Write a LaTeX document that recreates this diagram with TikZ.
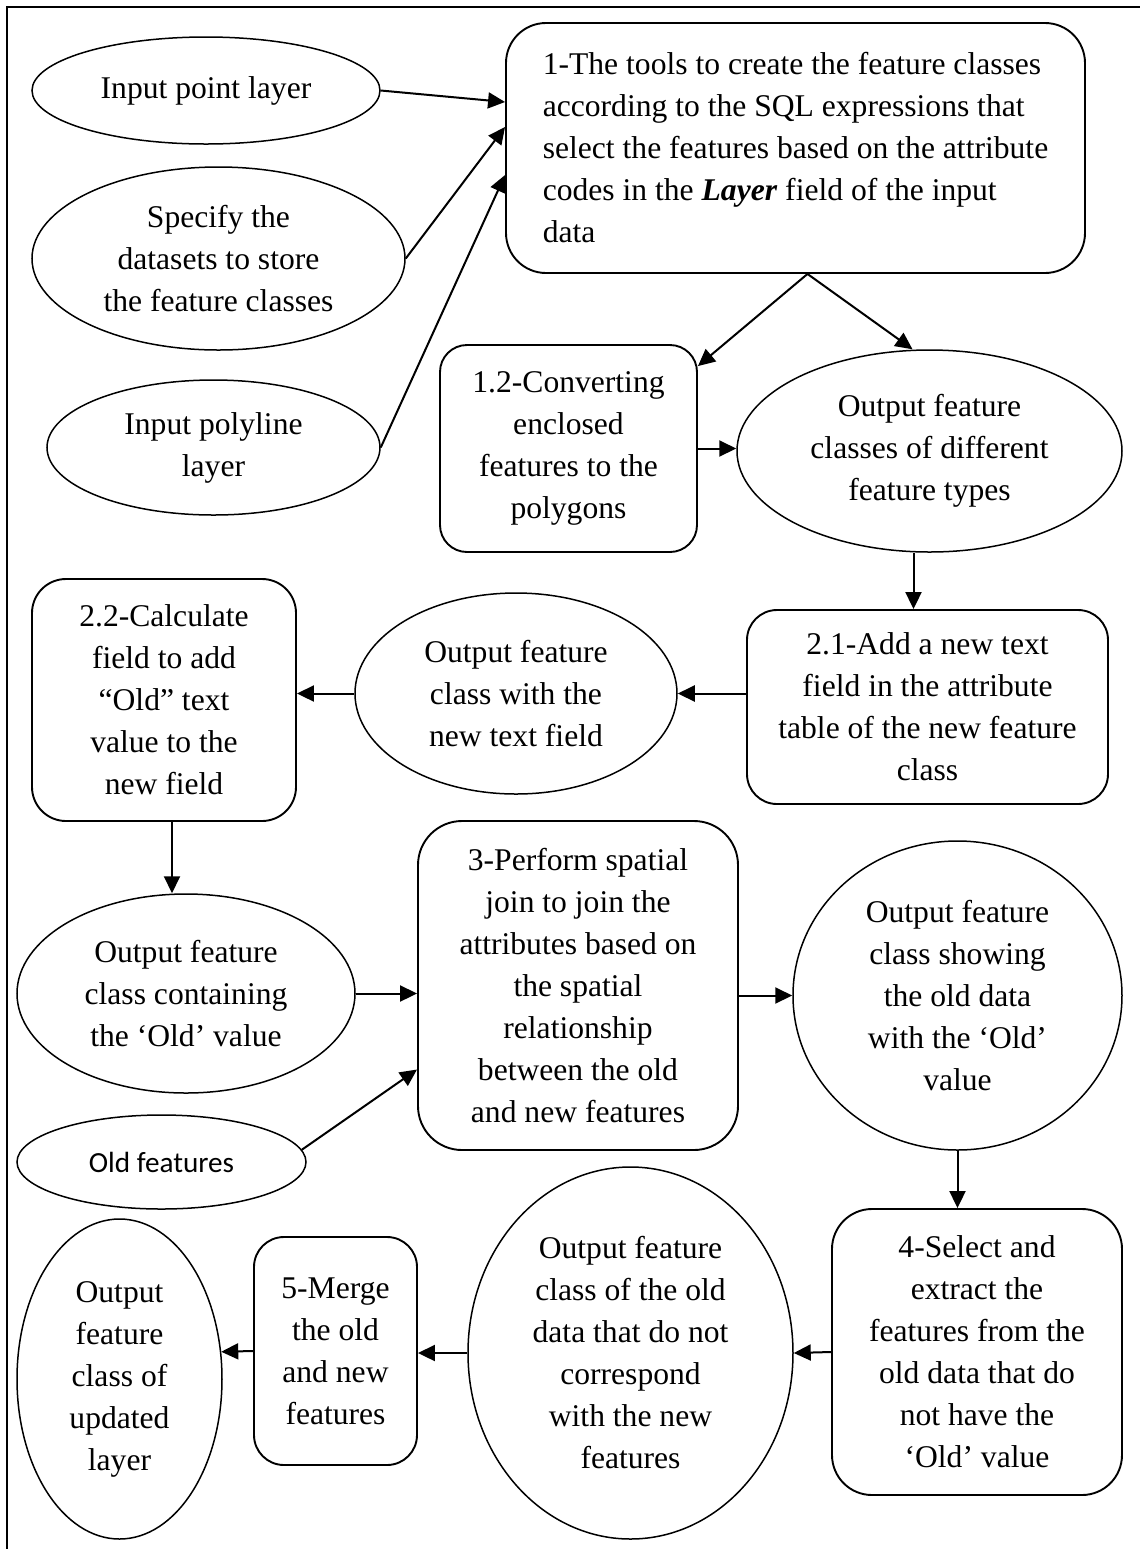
\documentclass[tikz,border=0pt]{standalone}
\usepackage{fontspec}
\setmainfont{Liberation Serif}
\newfontfamily\calibri{Carlito}
\usetikzlibrary{shapes.geometric,arrows.meta}

\begin{document}
\begin{tikzpicture}[x=0.5pt, y=-0.5pt,
    font=\fontsize{15.8pt}{21pt}\selectfont,
    oval/.style={draw, ellipse, line width=0.75pt, inner sep=0pt, align=center},
    stepbox/.style={draw, rectangle, rounded corners=17pt, line width=0.95pt, inner sep=0pt, align=center},
    flow/.style={-{Triangle[length=8.5pt, width=8pt]}, line width=1pt}]
            \useasboundingbox (0,0) rectangle (1140,1549);
            \draw[line width=1pt] (1140,7) -- (7,7) -- (7,1549);

            % inputs and step 1
            \node[oval, minimum width=174pt, minimum height=53.5pt] (inpoint) at (206,90.5) {Input point layer};
            \node[oval, minimum width=186.5pt, minimum height=91.5pt] (datasets) at (218.5,258.5) {Specify the\\datasets to store\\the feature classes};
            \node[oval, minimum width=166.5pt, minimum height=67.5pt] (inline) at (213.5,447.5) {Input polyline\\layer};
            \node[stepbox, rounded corners=20pt, align=left, minimum width=289.5pt, minimum height=125pt] (tools) at (795.5,148)
                {1-The tools to create the feature classes\\according to the SQL expressions that\\select the features based on the attribute\\codes in the \textbf{\textit{Layer}} field of the input\\data};
            \node[stepbox, rounded corners=13.5pt, minimum width=128.5pt, minimum height=103.5pt] (convert) at (568.5,448.5) {1.2-Converting\\enclosed\\features to the\\polygons};
            \node[oval, minimum width=192.5pt, minimum height=101pt] (outtypes) at (929.5,451) {Output feature\\classes of different\\feature types};

            % step 2
            \node[stepbox, rounded corners=15pt, minimum width=180.5pt, minimum height=97pt] (addfield) at (927.5,707) {2.1-Add a new text\\field in the attribute\\table of the new feature\\class};
            \node[oval, minimum width=161pt, minimum height=100.5pt] (outfield) at (516,693.5) {Output feature\\class with the\\new text field};
            \node[stepbox, minimum width=132pt, minimum height=121pt] (calcfield) at (164,700) {2.2-Calculate\\field to add\\“Old” text\\value to the\\new field};
            \node[oval, minimum width=169pt, minimum height=99.5pt] (outold) at (186,993.5) {Output feature\\class containing\\the ‘Old’ value};

            % step 3
            \node[stepbox, rounded corners=22pt, minimum width=160pt, minimum height=164.5pt] (join) at (578,985.5) {3-Perform spatial\\join to join the\\attributes based on\\the spatial\\relationship\\between the old\\and new features};
            \node[oval, minimum width=164.5pt, minimum height=154.5pt] (outjoin) at (957.5,995.5) {Output feature\\class showing\\the old data\\with the ‘Old’\\value};
            \node[oval, minimum width=144.5pt, minimum height=47pt, font=\calibri\fontsize{14.6pt}{18pt}\selectfont] (oldfeat) at (161.5,1162) {Old features};

            % steps 4 and 5
            \node[stepbox, rounded corners=20pt, minimum width=145pt, minimum height=143pt] (select) at (977,1352) {4-Select and\\extract the\\features from the\\old data that do\\not have the\\‘Old’ value};
            \node[oval, minimum width=162.5pt, minimum height=186pt] (outsel) at (630.5,1353) {Output feature\\class of the old\\data that do not\\correspond\\with the new\\features};
            \node[stepbox, rounded corners=15pt, minimum width=81.5pt, minimum height=114pt] (merge) at (335.5,1351) {5-Merge\\the old\\and new\\features};
            \node[oval, minimum width=102.5pt, minimum height=160pt] (outmerge) at (119.5,1379) {Output\\feature\\class of\\updated\\layer};

            \coordinate (fork) at ([xshift=6pt]tools.south);

            \draw[flow] (inpoint.east) -- ([yshift=23pt]tools.west);
            \draw[flow] (datasets.east) -- ([yshift=10.5pt]tools.west);
            \draw[flow] (inline.east) -- ([yshift=-13.5pt]tools.west);
            \draw[flow] (fork) -- ([yshift=-11pt]convert.north east);
            \draw[flow] (fork) -- ([xshift=-8.5pt]outtypes.north);
            \draw[flow] (convert.east) -- (convert.east -| outtypes.west);
            \draw[flow] ([xshift=-8pt]outtypes.south) -- ([xshift=-8pt]outtypes.south |- addfield.north);
            \draw[flow] (addfield.west |- outfield.east) -- (outfield.east);
            \draw[flow] (outfield.west) -- (outfield.west -| calcfield.east);
            \draw[flow] ([xshift=4pt]calcfield.south) -- ([xshift=4pt]calcfield.south |- outold.north);
            \draw[flow] (outold.east) -- (outold.east -| join.west);
            \draw[flow] (oldfeat.5) -- ([yshift=-42pt]join.west);
            \draw[flow] (outjoin.west -| join.east) -- (outjoin.west);
            \draw[flow] (outjoin.south) -- (outjoin.south |- select.north);
            \draw[flow] (select.west) -- (outsel.east);
            \draw[flow] (outsel.west) -- (outsel.west -| merge.east);
            \draw[flow] (merge.west) -- (outmerge.15);
        \end{tikzpicture}
\end{document}
